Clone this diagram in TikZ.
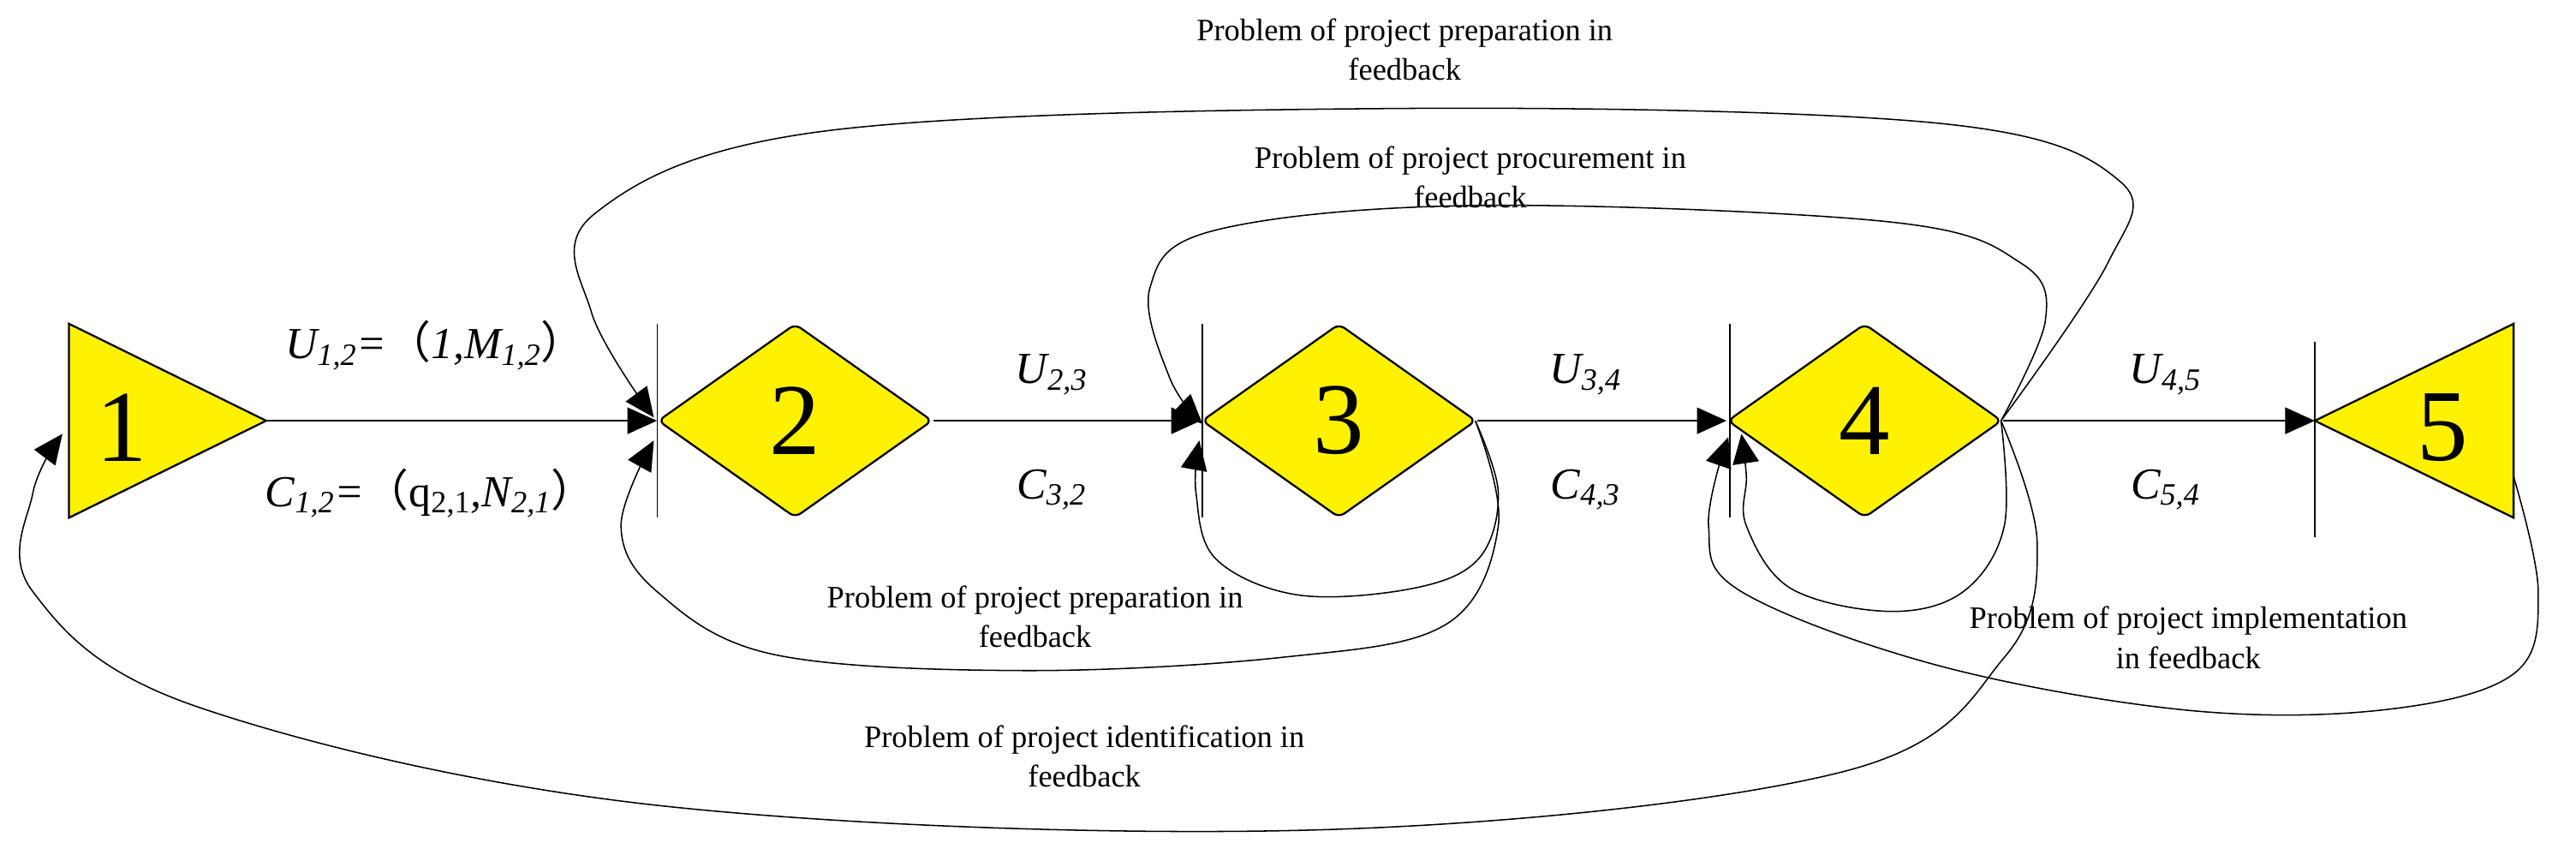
\documentclass[tikz,border=0pt]{standalone}
\usepackage{fontspec}
\setmainfont{Liberation Serif}
\newfontfamily\cjk{Noto Sans CJK SC}
\newcommand{\lpar}{{\cjk\upshape （}}
\newcommand{\rpar}{{\cjk\upshape ）}}
\usetikzlibrary{shapes.geometric,arrows.meta}
\begin{document}
\begin{tikzpicture}[x=1pt,y=-1pt,
  shp/.style={draw=black,line width=1.2pt,fill=yellow},
  num/.style={font=\fontsize{62}{62}\selectfont},
  lab/.style={font=\itshape\fontsize{27}{28}\selectfont},
  txt/.style={font=\fontsize{19}{24}\selectfont,align=center},
  arr/.style={-{Triangle[length=18pt,width=16pt]}},
  ln/.style={line width=1.2pt},
  crv/.style={line width=0.8pt}]
\useasboundingbox (0,0) rectangle (1568,520);
% shapes
\draw[shp] (42,197) -- (42,315) -- (162,256) -- cycle;
\node[num] (n1) at (74,260) {1};
\coordinate (o1) at (162,256);
\node[shp,diamond,minimum width=167pt,minimum height=118pt,inner sep=0pt,rounded corners=4pt,num] (n2) at (484,256) {2};
\node[shp,diamond,minimum width=167pt,minimum height=118pt,inner sep=0pt,rounded corners=4pt,num] (n3) at (815,256) {3};
\node[shp,diamond,minimum width=167pt,minimum height=118pt,inner sep=0pt,rounded corners=4pt,num] (n4) at (1135,256) {4};
\draw[shp] (1409,256) -- (1530,197) -- (1530,315) -- cycle;
\node[num] (n5) at (1487,260) {5};
\coordinate (i5) at (1409,256);
% bars
\draw[crv] (400,197) -- (400,315);
\draw[crv] (732,197) -- (732,315);
\draw[crv] (1053,197) -- (1053,315);
\draw[crv] (1409,208) -- (1409,327);
% main arrows
\draw[ln,arr] (o1) -- (n2.west);
\draw[ln,arr] (n2.east) -- (n3.west);
\draw[ln,arr] (n3.east) -- (n4.west);
\draw[ln,arr] (n4.east) -- (i5);
% labels
\node[lab] (l1) at (265,210) {U\textsubscript{1,2}=\lpar 1,M\textsubscript{1,2}\rpar};
\node[lab] (l2) at (262,300) {C\textsubscript{1,2}=\lpar\textup{q\textsubscript{2,1}},N\textsubscript{2,1}\rpar};
\node[lab] (l3) at (640,228) {U\textsubscript{2,3}};
\node[lab] (l4) at (640,298) {C\textsubscript{3,2}};
\node[lab] (l5) at (965,228) {U\textsubscript{3,4}};
\node[lab] (l6) at (965,298) {C\textsubscript{4,3}};
\node[lab] (l7) at (1318,228) {U\textsubscript{4,5}};
\node[lab] (l8) at (1318,298) {C\textsubscript{5,4}};
% texts
\node[txt] (t1) at (855,30) {Problem of project preparation in\\feedback};
\node[txt] (t2) at (895,108) {Problem of project procurement in\\feedback};
\node[txt] (t3) at (630,375) {Problem of project preparation in\\feedback};
\node[txt] (t4) at (660,460) {Problem of project identification in\\feedback};
\node[txt] (t5) at (1332,388) {Problem of project implementation\\in feedback};
% feedback curves
\draw[crv,arr] plot[smooth,tension=0.6] coordinates {(1218,256) (1283,160) (1290,110) (1180,75) (850,66) (500,80) (362,130) (360,190) (398,254)};
\draw[crv,arr] plot[smooth,tension=0.6] coordinates {(1218,256) (1245,195) (1230,160) (1150,135) (900,125) (740,140) (700,175) (712,230) (732,258)};
\draw[crv,arr] plot[smooth,tension=0.6] coordinates {(898,256) (912,300) (900,340) (860,358) (790,362) (740,340) (728,300) (730,268)};
\draw[crv,arr] plot[smooth,tension=0.6] coordinates {(898,256) (912,320) (880,380) (780,400) (620,408) (470,398) (400,360) (378,320) (398,268)};
\draw[crv,arr] plot[smooth,tension=0.6] coordinates {(1218,256) (1240,330) (1220,400) (1120,470) (800,505) (400,490) (120,430) (20,360) (20,300) (38,264)};
\draw[crv,arr] plot[smooth,tension=0.6] coordinates {(1218,256) (1220,320) (1195,360) (1150,372) (1090,358) (1063,320) (1063,290) (1060,264)};
\draw[crv,arr] plot[smooth,tension=0.6] coordinates {(1530,290) (1545,360) (1530,410) (1450,432) (1330,432) (1180,405) (1060,360) (1040,320) (1052,266)};
\end{tikzpicture}
\end{document}
